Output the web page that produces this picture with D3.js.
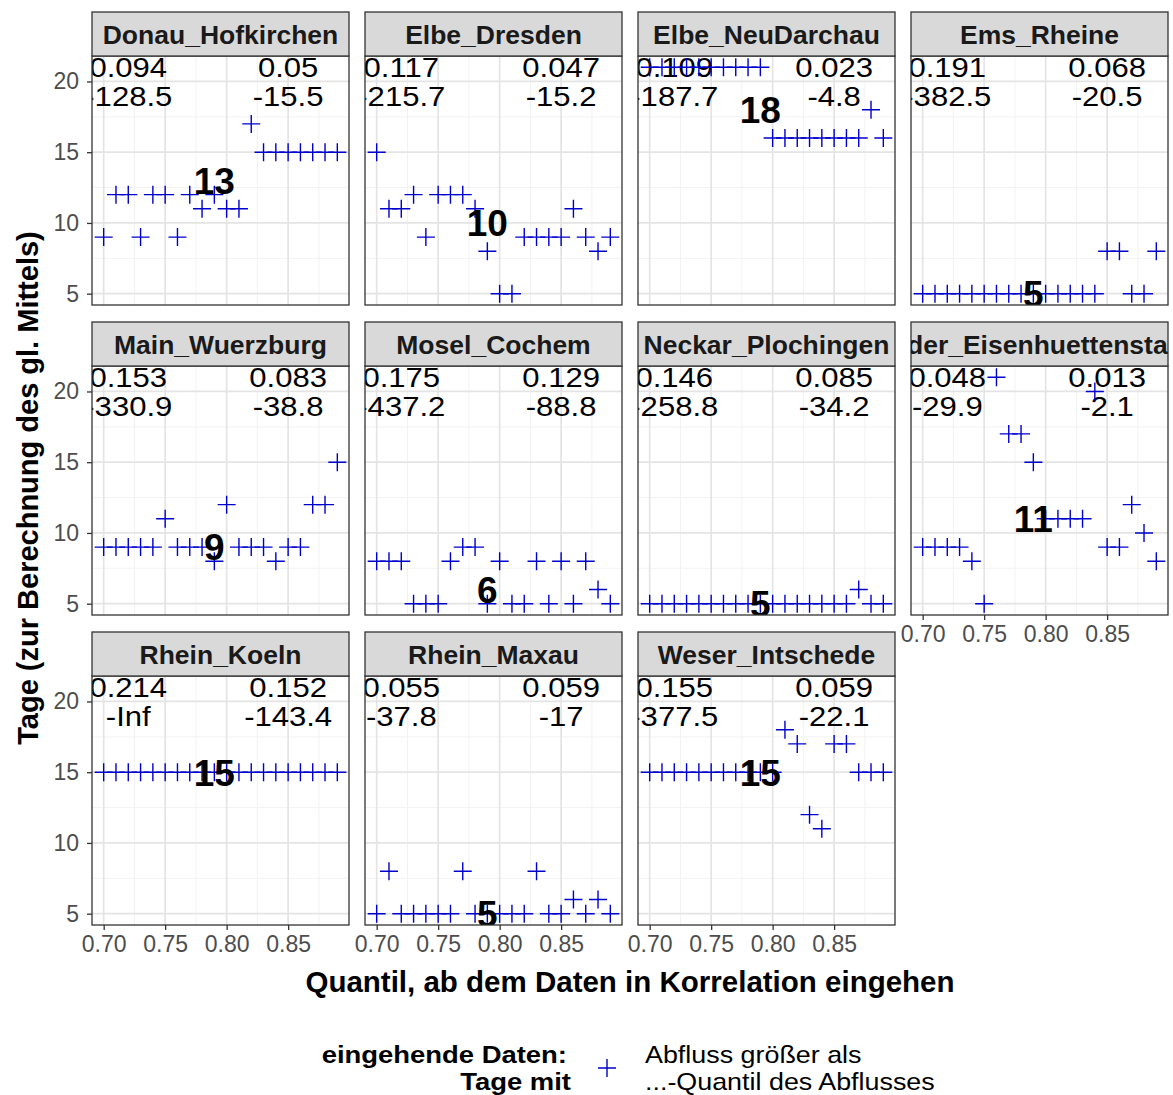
<!DOCTYPE html>
<html>
<head>
<meta charset="utf-8">
<script src="https://cdn.jsdelivr.net/npm/d3@7"></script>
<style>
  body { margin: 0; background: #ffffff; }
  svg { display: block; }
  text { font-family: "Liberation Sans", Arial, Helvetica, sans-serif; }
</style>
</head>
<body>
<svg id="chart" width="1173" height="1095"></svg>
<script>
// Gauging stations, one facet each
const stations = [
  "Donau_Hofkirchen", "Elbe_Dresden", "Elbe_NeuDarchau", "Ems_Rheine",
  "Main_Wuerzburg", "Mosel_Cochem", "Neckar_Plochingen", "Oder_Eisenhuettenstadt",
  "Rhein_Koeln", "Rhein_Maxau", "Weser_Intschede"
];

// Discharge quantile from which data enter the correlation
const quantiles = [0.70, 0.71, 0.72, 0.73, 0.74, 0.75, 0.76, 0.77, 0.78, 0.79,
                   0.80, 0.81, 0.82, 0.83, 0.84, 0.85, 0.86, 0.87, 0.88, 0.89];

// Days used for the moving mean, per station and quantile
const donauHofkirchen      = [9, 12, 12, 9, 12, 12, 9, 12, 11, 12, 11, 11, 17, 15, 15, 15, 15, 15, 15, 15];
const elbeDresden          = [15, 11, 11, 12, 9, 12, 12, 12, 11, 8, 5, 5, 9, 9, 9, 9, 11, 9, 8, 9];
const elbeNeuDarchau       = [21, 21, 21, 21, 21, 21, 21, 21, 21, 21, 16, 16, 16, 16, 16, 16, 16, 16, 18, 16];
const emsRheine            = [5, 5, 5, 5, 5, 5, 5, 5, 5, 5, 5, 5, 5, 5, 5, 8, 8, 5, 5, 8];
const mainWuerzburg        = [9, 9, 9, 9, 9, 11, 9, 9, 9, 8, 12, 9, 9, 9, 8, 9, 9, 12, 12, 15];
const moselCochem          = [8, 8, 8, 5, 5, 5, 8, 9, 9, 5, 8, 5, 5, 8, 5, 8, 5, 8, 6, 5];
const neckarPlochingen     = [5, 5, 5, 5, 5, 5, 5, 5, 5, 5, 5, 5, 5, 5, 5, 5, 5, 6, 5, 5];
const oderEisenhuettenstadt = [9, 9, 9, 9, 8, 5, 21, 17, 17, 15, 11, 11, 11, 11, 20, 9, 9, 12, 10, 8];
const rheinKoeln           = [15, 15, 15, 15, 15, 15, 15, 15, 15, 15, 15, 15, 15, 15, 15, 15, 15, 15, 15, 15];
const rheinMaxau           = [5, 8, 5, 5, 5, 5, 5, 8, 5, 5, 5, 5, 5, 8, 5, 5, 6, 5, 6, 5];
const weserIntschede       = [15, 15, 15, 15, 15, 15, 15, 15, 15, 15, 15, 18, 17, 12, 11, 17, 17, 15, 15, 15];

const daysByStation = [
  donauHofkirchen, elbeDresden, elbeNeuDarchau, emsRheine,
  mainWuerzburg, moselCochem, neckarPlochingen, oderEisenhuettenstadt,
  rheinKoeln, rheinMaxau, weserIntschede
];

// Chosen number of days, printed in bold in each facet
const chosenDays = [13, 10, 18, 5, 9, 6, 5, 11, 15, 5, 15];

// Statistics printed in the upper left and upper right corner of each facet
const leftLine1  = ["0.094", "0.117", "0.109", "0.191", "0.153", "0.175", "0.146", "0.048", "0.214", "0.055", "0.155"];
const leftLine2  = ["-128.5", "-215.7", "-187.7", "-382.5", "-330.9", "-437.2", "-258.8", "-29.9", "-Inf", "-37.8", "-377.5"];
const rightLine1 = ["0.05", "0.047", "0.023", "0.068", "0.083", "0.129", "0.085", "0.013", "0.152", "0.059", "0.059"];
const rightLine2 = ["-15.5", "-15.2", "-4.8", "-20.5", "-38.8", "-88.8", "-34.2", "-2.1", "-143.4", "-17", "-22.1"];

// Legend texts
const legendTitle = ["eingehende Daten:", "Tage mit"];
const legendLabel = ["Abfluss größer als", "...-Quantil des Abflusses"];

// Axis breaks
const xBreaks = [0.70, 0.75, 0.80, 0.85];
const xMinor  = [0.725, 0.775, 0.825, 0.875];
const yBreaks = [5, 10, 15, 20];
const yMinor  = [7.5, 12.5, 17.5];

// ---- layout ----
const ncol = 4;
const left0 = 92, pw = 257, gapX = 16;
const top0 = 12, stripH = 44, ph = 249, rowStep = 310;
const annX = [0.72, 0.85], annY = 20, labelX = 0.79;
const annFont = 27, annStretch = 1.15, annLineGap = 29;
const pointColor = "#0000cd";
const armLen = 9;
const tickFont = 23;

const svg = d3.select("#chart");
svg.append("rect").attr("width", 1173).attr("height", 1095).attr("fill", "#ffffff");

// shared scales with 5% expansion like ggplot
const xExt = d3.extent(quantiles);
const xPad = (xExt[1] - xExt[0]) * 0.05;
const x = d3.scaleLinear().domain([xExt[0] - xPad, xExt[1] + xPad]).range([0, pw]);
const yExt = d3.extent(daysByStation.flat());
const yPad = (yExt[1] - yExt[0]) * 0.05;
const y = d3.scaleLinear().domain([yExt[0] - yPad, yExt[1] + yPad]).range([ph, 0]);

const nStations = stations.length;
const plusPath = `M${-armLen},0H${armLen}M0,${-armLen}V${armLen}`;

stations.forEach((name, i) => {
  const col = i % ncol, row = Math.floor(i / ncol);
  const px = left0 + col * (pw + gapX);
  const stripTop = top0 + row * rowStep;
  const py = stripTop + stripH;
  const g = svg.append("g").attr("transform", `translate(${px},${py})`);

  const clipId = "clip" + i;
  svg.append("clipPath").attr("id", clipId)
    .append("rect").attr("x", 0).attr("y", 0).attr("width", pw).attr("height", ph);
  const stripClip = "sclip" + i;
  svg.append("clipPath").attr("id", stripClip)
    .append("rect").attr("x", 0).attr("y", 0).attr("width", pw).attr("height", stripH);

  // panel background and grid
  g.append("rect").attr("width", pw).attr("height", ph).attr("fill", "#ffffff");
  g.selectAll(".gminx").data(xMinor).join("line")
    .attr("x1", d => x(d)).attr("x2", d => x(d)).attr("y1", 0).attr("y2", ph)
    .attr("stroke", "#f0f0f0").attr("stroke-width", 0.9);
  g.selectAll(".gminy").data(yMinor).join("line")
    .attr("y1", d => y(d)).attr("y2", d => y(d)).attr("x1", 0).attr("x2", pw)
    .attr("stroke", "#f0f0f0").attr("stroke-width", 0.9);
  g.selectAll(".gmajx").data(xBreaks).join("line")
    .attr("x1", d => x(d)).attr("x2", d => x(d)).attr("y1", 0).attr("y2", ph)
    .attr("stroke", "#e4e4e4").attr("stroke-width", 1.7);
  g.selectAll(".gmajy").data(yBreaks).join("line")
    .attr("y1", d => y(d)).attr("y2", d => y(d)).attr("x1", 0).attr("x2", pw)
    .attr("stroke", "#e4e4e4").attr("stroke-width", 1.7);

  const inner = g.append("g").attr("clip-path", `url(#${clipId})`);

  // corner statistics (two lines each, centred on y = annY)
  const annLines = [[leftLine1[i], leftLine2[i]], [rightLine1[i], rightLine2[i]]];
  annLines.forEach((lines, k) => {
    const holder = inner.append("g")
      .attr("transform", `translate(${x(annX[k])},${y(annY)}) scale(${annStretch},1)`);
    lines.forEach((ln, j) => {
      holder.append("text")
        .attr("x", 0).attr("y", (j - 0.5) * annLineGap)
        .attr("dy", "0.36em")
        .attr("text-anchor", "middle")
        .attr("font-size", annFont).attr("fill", "#000")
        .text(ln);
    });
  });

  // points
  const pts = quantiles.map((q, j) => ({ q, d: daysByStation[i][j] }));
  inner.selectAll(".pt").data(pts).join("path")
    .attr("transform", d => `translate(${x(d.q)},${y(d.d)})`)
    .attr("d", plusPath)
    .attr("fill", "none").attr("stroke", pointColor).attr("stroke-width", 1.4);

  // chosen number of days
  inner.append("text")
    .attr("x", x(labelX)).attr("y", y(chosenDays[i]))
    .attr("dy", "0.36em")
    .attr("text-anchor", "middle").attr("font-weight", "bold")
    .attr("font-size", 37).attr("fill", "#000")
    .text(chosenDays[i]);

  // panel border
  g.append("rect").attr("width", pw).attr("height", ph)
    .attr("fill", "none").attr("stroke", "#333333").attr("stroke-width", 1.3);

  // strip
  const sg = svg.append("g").attr("transform", `translate(${px},${stripTop})`);
  sg.append("rect").attr("width", pw).attr("height", stripH)
    .attr("fill", "#d9d9d9").attr("stroke", "#333333").attr("stroke-width", 1.3);
  sg.append("g").attr("clip-path", `url(#${stripClip})`)
    .append("text")
    .attr("x", pw / 2).attr("y", stripH / 2).attr("dy", "0.36em")
    .attr("text-anchor", "middle").attr("font-weight", "bold")
    .attr("font-size", 26.5).attr("fill", "#1a1a1a")
    .text(name);

  // y axis on the first column
  if (col === 0) {
    const ya = g.append("g").call(d3.axisLeft(y).tickValues(yBreaks).tickSize(5).tickPadding(8));
    ya.select(".domain").remove();
    ya.selectAll(".tick line").attr("stroke", "#333333").attr("stroke-width", 1.3);
    ya.selectAll(".tick text").attr("font-size", tickFont).attr("fill", "#4d4d4d")
      .attr("font-family", "Liberation Sans, Arial, sans-serif");
  }
  // x axis where no facet lies below
  const below = i + ncol;
  if (below >= nStations) {
    const xa = g.append("g").attr("transform", `translate(0,${ph})`)
      .call(d3.axisBottom(x).tickValues(xBreaks).tickSize(5).tickPadding(6).tickFormat(d3.format(".2f")));
    xa.select(".domain").remove();
    xa.selectAll(".tick line").attr("stroke", "#333333").attr("stroke-width", 1.3);
    xa.selectAll(".tick text").attr("font-size", tickFont).attr("fill", "#4d4d4d")
      .attr("font-family", "Liberation Sans, Arial, sans-serif");
  }
});

// axis titles
const plotLeft = left0, plotRight = left0 + (ncol - 1) * (pw + gapX) + pw;
svg.append("text")
  .attr("x", (plotLeft + plotRight) / 2).attr("y", 992)
  .attr("text-anchor", "middle").attr("font-weight", "bold").attr("font-size", 29.5)
  .attr("fill", "#000").text("Quantil, ab dem Daten in Korrelation eingehen");

svg.append("text")
  .attr("transform", `translate(28,488) rotate(-90)`)
  .attr("dy", "0.36em")
  .attr("text-anchor", "middle").attr("font-weight", "bold").attr("font-size", 29)
  .attr("fill", "#000").text("Tage (zur Berechnung des gl. Mittels)");

// legend: two-line title (right aligned), key, two-line label
const legendLineY = [1054, 1081];
const legendStretch = 1.12;
const lg = svg.append("g");
legendTitle.forEach((t, j) => {
  lg.append("g")
    .attr("transform", `translate(${j === 0 ? 567 : 571},${legendLineY[j]}) scale(${legendStretch},1)`)
    .append("text").attr("dy", "0.36em")
    .attr("text-anchor", "end").attr("font-weight", "bold").attr("font-size", 24.5)
    .attr("fill", "#000").text(t);
});
lg.append("path").attr("transform", "translate(607,1068)").attr("d", plusPath)
  .attr("fill", "none").attr("stroke", pointColor).attr("stroke-width", 1.4);
legendLabel.forEach((t, j) => {
  lg.append("g")
    .attr("transform", `translate(645,${legendLineY[j]}) scale(${legendStretch},1)`)
    .append("text").attr("dy", "0.36em")
    .attr("font-size", 24).attr("fill", "#000").text(t);
});
</script>
</body>
</html>
